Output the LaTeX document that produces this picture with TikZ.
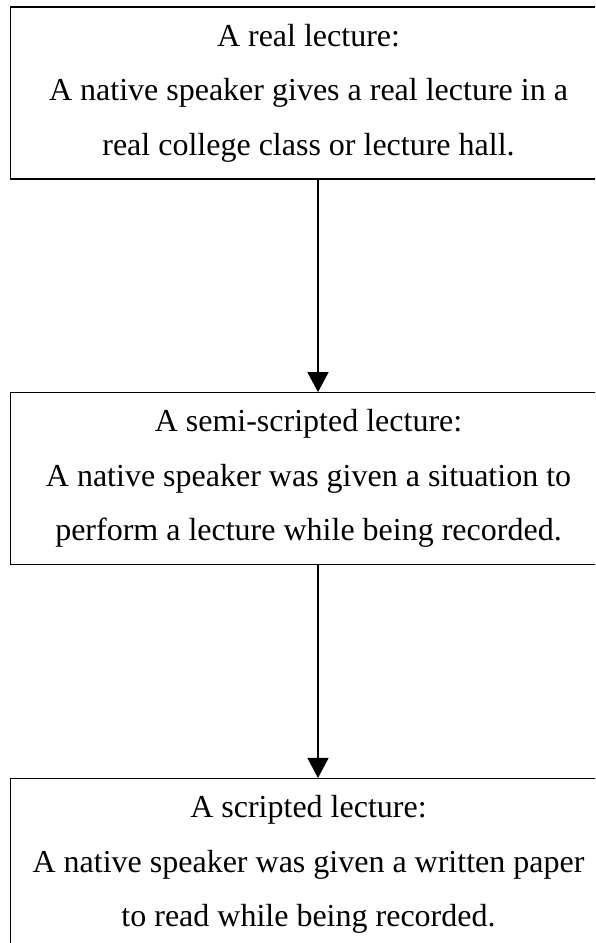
\documentclass[tikz,border=0pt]{standalone}
\usepackage{fontspec}
\setmainfont{Liberation Serif}
\usetikzlibrary{positioning, arrows.meta}

\begin{document}
\begin{tikzpicture}[x=1pt, y=1pt,
  stage/.style={draw, line width=1.3pt, minimum width=596pt,
    minimum height=172pt, align=center, inner sep=0pt,
    font=\fontsize{32}{54.5}\selectfont},
  flow/.style={-{Triangle[width=21pt, length=20pt]}, line width=1.3pt},
  node distance=212.5pt,
]
  \useasboundingbox (0,0) rectangle (595,-943);
  \clip (0,0) rectangle (595,-943);

  % Stage boxes, top to bottom
  \node[stage] (real) at (308.5,-93)
    {A real lecture:\\A native speaker gives a real lecture in a\\real college class or lecture hall.};
  \node[stage, below=of real] (semi)
    {A semi-scripted lecture:\\A native speaker was given a situation to\\perform a lecture while being recorded.};
  \node[stage, below=of semi] (scripted)
    {A scripted lecture:\\A native speaker was given a written paper\\to read while being recorded.};

  % Arrows between stages
  \draw[flow] ([xshift=9.5pt]real.south) -- ([xshift=9.5pt]semi.north);
  \draw[flow] ([xshift=9.5pt]semi.south) -- ([xshift=9.5pt]scripted.north);
\end{tikzpicture}
\end{document}
